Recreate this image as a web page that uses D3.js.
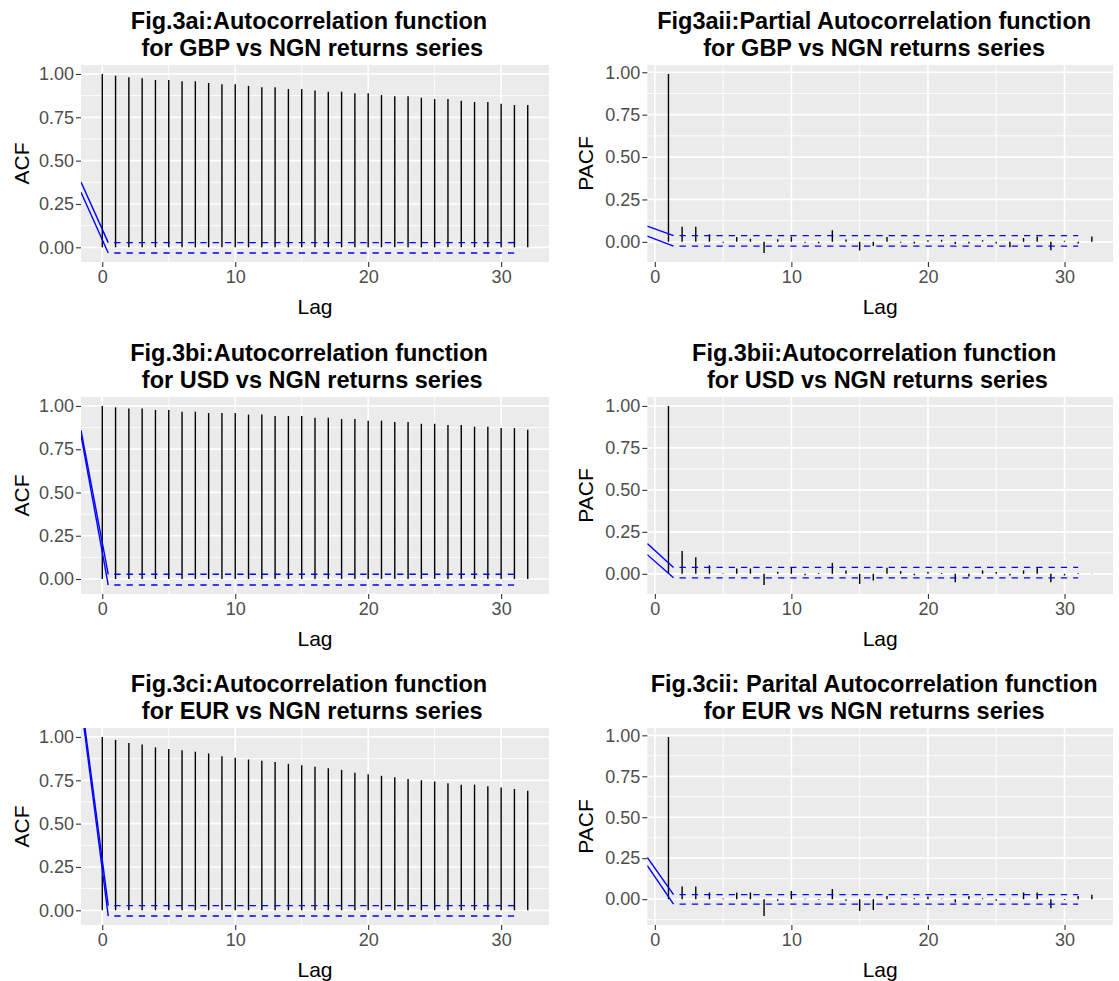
<!DOCTYPE html>
<html><head><meta charset="utf-8">
<script src="https://cdn.jsdelivr.net/npm/d3@7"></script>
<style>body{margin:0;background:#fff}svg{display:block;font-family:"Liberation Sans",Arial,sans-serif}</style>
</head><body><svg id="c" width="1119" height="981"></svg>
<script>
// ---------- data ----------
const acfLags = d3.range(0, 33);
const pacfLags = d3.range(1, 33);

const gbpAcf = [1.000,0.990,0.981,0.975,0.965,0.965,0.958,0.958,0.948,0.940,0.940,0.931,0.923,0.923,0.913,0.913,0.905,0.898,0.898,0.888,0.888,0.878,0.871,0.871,0.863,0.855,0.855,0.846,0.838,0.838,0.828,0.821,0.821];
const usdAcf = [1.000,0.992,0.985,0.985,0.977,0.977,0.967,0.967,0.959,0.959,0.959,0.950,0.950,0.942,0.942,0.942,0.932,0.932,0.925,0.925,0.915,0.915,0.907,0.907,0.897,0.897,0.890,0.890,0.880,0.880,0.872,0.872,0.863];
const eurAcf = [1.000,0.983,0.965,0.957,0.940,0.930,0.923,0.915,0.905,0.888,0.880,0.870,0.863,0.855,0.845,0.837,0.828,0.820,0.810,0.793,0.785,0.776,0.768,0.758,0.750,0.743,0.733,0.725,0.725,0.716,0.708,0.700,0.690];

const gbpPacf = [0.990,0.089,0.089,0.045,-0.005,0.028,0.018,-0.066,0.015,0.030,-0.006,-0.008,0.069,0.014,-0.051,-0.024,0.028,-0.006,-0.010,0.010,0.012,-0.012,-0.010,0.010,-0.010,-0.032,0.022,0.032,-0.050,0.006,-0.010,0.032];
const usdPacf = [1.000,0.136,0.099,0.051,0.004,0.032,0.032,-0.067,0.012,0.036,-0.008,0.005,0.065,0.020,-0.060,-0.040,0.036,0.016,-0.008,0.012,0.005,-0.050,-0.016,0.020,0.010,-0.010,0.020,0.036,-0.050,-0.010,0.005,0.002];
const eurPacf = [0.990,0.078,0.078,0.041,0.004,0.041,0.041,-0.103,-0.010,0.050,0.003,-0.004,0.062,-0.010,-0.072,-0.066,0.020,0.003,0.006,0.016,0.003,-0.020,0.020,0.005,-0.010,0.003,0.041,0.041,-0.056,-0.005,0.020,0.027];

// confidence band [upper, lower]
const gbpAcfCi = [0.027, -0.033];
const usdAcfCi = [0.027, -0.035];
const eurAcfCi = [0.027, -0.033];
const gbpPacfCi = [0.037, -0.025];
const usdPacfCi = [0.038, -0.024];
const eurPacfCi = [0.028, -0.030];

// blue solid lead-in lines: value at left edge [upper, lower]
const gbpAcfLead = [0.376, 0.318];
const usdAcfLead = [0.860, 0.830];
const eurAcfLead = [1.230, 1.190];
const gbpPacfLead = [0.093, 0.034];
const usdPacfLead = [0.180, 0.114];
const eurPacfLead = [0.255, 0.205];
const leadEndLag = {acf: 0.45, pacf: 1.37};
const ciEndLag = 31;

const titles = [
  ["Fig.3ai:Autocorrelation function", " for GBP vs NGN returns series"],
  ["Fig3aii:Partial Autocorrelation function", "for GBP vs NGN returns series"],
  ["Fig.3bi:Autocorrelation function", " for USD vs NGN returns series"],
  ["Fig.3bii:Autocorrelation function", " for USD vs NGN returns series"],
  ["Fig.3ci:Autocorrelation function", " for EUR vs NGN returns series"],
  ["Fig.3cii: Parital Autocorrelation function", "for EUR vs NGN returns series"]
];
const yTitles = ["ACF", "PACF"];
const xTitle = "Lag";
const yTicks = [0, 0.25, 0.5, 0.75, 1];
const yMinor = [-0.125, 0.125, 0.375, 0.625, 0.875];
const xTicks = [0, 10, 20, 30];
const xMinor = [5, 15, 25];

const panels = [
  {kind:"acf", lags:acfLags, vals:gbpAcf, ci:gbpAcfCi, lead:gbpAcfLead},
  {kind:"pacf", lags:pacfLags, vals:gbpPacf, ci:gbpPacfCi, lead:gbpPacfLead},
  {kind:"acf", lags:acfLags, vals:usdAcf, ci:usdAcfCi, lead:usdAcfLead},
  {kind:"pacf", lags:pacfLags, vals:usdPacf, ci:usdPacfCi, lead:usdPacfLead},
  {kind:"acf", lags:acfLags, vals:eurAcf, ci:eurAcfCi, lead:eurAcfLead},
  {kind:"pacf", lags:pacfLags, vals:eurPacf, ci:eurPacfCi, lead:eurPacfLead}
];

// ---------- layout ----------
const colX = [[81, 549], [647.3, 1113]];
const rowOff = [0, 332, 663];
const pTop = 65, pH = 197;

const svg = d3.select("#c");
function expand(ext){ const r = ext[1]-ext[0]; return [ext[0]-0.05*r, ext[1]+0.05*r]; }

panels.forEach((p, i) => {
  const col = i % 2, row = Math.floor(i/2);
  const [x0, x1] = colX[col];
  const top = pTop + rowOff[row], bot = top + pH;
  const x = d3.scaleLinear().domain(expand(d3.extent(p.lags))).range([x0, x1]);
  const ymin = Math.min(d3.min(p.vals), p.ci[1]);
  const ymax = Math.max(d3.max(p.vals), p.ci[0]);
  const y = d3.scaleLinear().domain(expand([ymin, ymax])).range([bot, top]);
  const g = svg.append("g");
  const cid = "clip" + i;
  g.append("clipPath").attr("id", cid).append("rect")
    .attr("x", x0).attr("y", top).attr("width", x1-x0).attr("height", pH);

  g.append("rect").attr("x", x0).attr("y", top).attr("width", x1-x0).attr("height", pH).attr("fill", "#EBEBEB");
  const grid = g.append("g").attr("clip-path", `url(#${cid})`);
  const yd = y.domain(), xd = x.domain();
  yMinor.filter(v => v > yd[0] && v < yd[1]).forEach(v =>
    grid.append("line").attr("x1", x0).attr("x2", x1).attr("y1", y(v)).attr("y2", y(v)).attr("stroke", "#fff").attr("stroke-width", 0.9));
  xMinor.filter(v => v > xd[0] && v < xd[1]).forEach(v =>
    grid.append("line").attr("y1", top).attr("y2", bot).attr("x1", x(v)).attr("x2", x(v)).attr("stroke", "#fff").attr("stroke-width", 0.9));
  yTicks.forEach(v =>
    grid.append("line").attr("x1", x0).attr("x2", x1).attr("y1", y(v)).attr("y2", y(v)).attr("stroke", "#fff").attr("stroke-width", 1.7));
  xTicks.forEach(v =>
    grid.append("line").attr("y1", top).attr("y2", bot).attr("x1", x(v)).attr("x2", x(v)).attr("stroke", "#fff").attr("stroke-width", 1.7));

  const plot = g.append("g").attr("clip-path", `url(#${cid})`);
  plot.selectAll("line.bar").data(p.lags.map((l, k) => [l, p.vals[k]])).join("line")
    .attr("class", "bar")
    .attr("x1", d => x(d[0])).attr("x2", d => x(d[0]))
    .attr("y1", y(0)).attr("y2", d => y(d[1]))
    .attr("stroke", "#000").attr("stroke-width", 1.4);

  const le = leadEndLag[p.kind];
  [0, 1].forEach(k => {
    plot.append("line")
      .attr("x1", x(xd[0])).attr("y1", y(p.lead[k]))
      .attr("x2", x(le)).attr("y2", y(p.ci[k]))
      .attr("stroke", "#0000FF").attr("stroke-width", 1.4);
    plot.append("line")
      .attr("x1", x(le)).attr("y1", y(p.ci[k]))
      .attr("x2", x(ciEndLag)).attr("y2", y(p.ci[k]))
      .attr("stroke", "#0000FF").attr("stroke-width", 1.4)
      .attr("stroke-dasharray", "6.3,6").attr("stroke-dashoffset", 6.3);
  });

  // axes
  const ya = g.append("g").attr("transform", `translate(${x0},0)`)
    .call(d3.axisLeft(y).tickValues(yTicks).tickFormat(d3.format(".2f")).tickSize(5).tickPadding(2));
  const xa = g.append("g").attr("transform", `translate(0,${bot})`)
    .call(d3.axisBottom(x).tickValues(xTicks).tickFormat(d3.format("d")).tickSize(5).tickPadding(3));
  [ya, xa].forEach(a => {
    a.select(".domain").remove();
    a.selectAll(".tick line").attr("stroke", "#333333").attr("stroke-width", 1.1);
    a.selectAll(".tick text").attr("fill", "#4D4D4D").style("font-size", "18px").style("font-family", '"Liberation Sans",Arial,sans-serif');
  });

  // titles
  const cx = (x0 + x1) / 2 - 6;
  const tt = g.append("text").attr("text-anchor", "middle").attr("font-weight", "bold")
    .style("font-size", "23.5px").attr("fill", "#000").attr("xml:space", "preserve");
  tt.append("tspan").attr("x", cx).attr("y", 29 + rowOff[row]).text(titles[i][0]);
  tt.append("tspan").attr("x", cx).attr("y", 56 + rowOff[row]).text(titles[i][1]);

  g.append("text").attr("text-anchor", "middle").style("font-size", "21px")
    .attr("x", (x0 + x1) / 2).attr("y", bot + 52).text(xTitle);
  const yx = col === 0 ? 28.5 : 592.5;
  g.append("text").attr("text-anchor", "middle").style("font-size", "21px")
    .attr("transform", `translate(${yx},${(top + bot) / 2}) rotate(-90)`).text(yTitles[col]);
});
</script></body></html>
